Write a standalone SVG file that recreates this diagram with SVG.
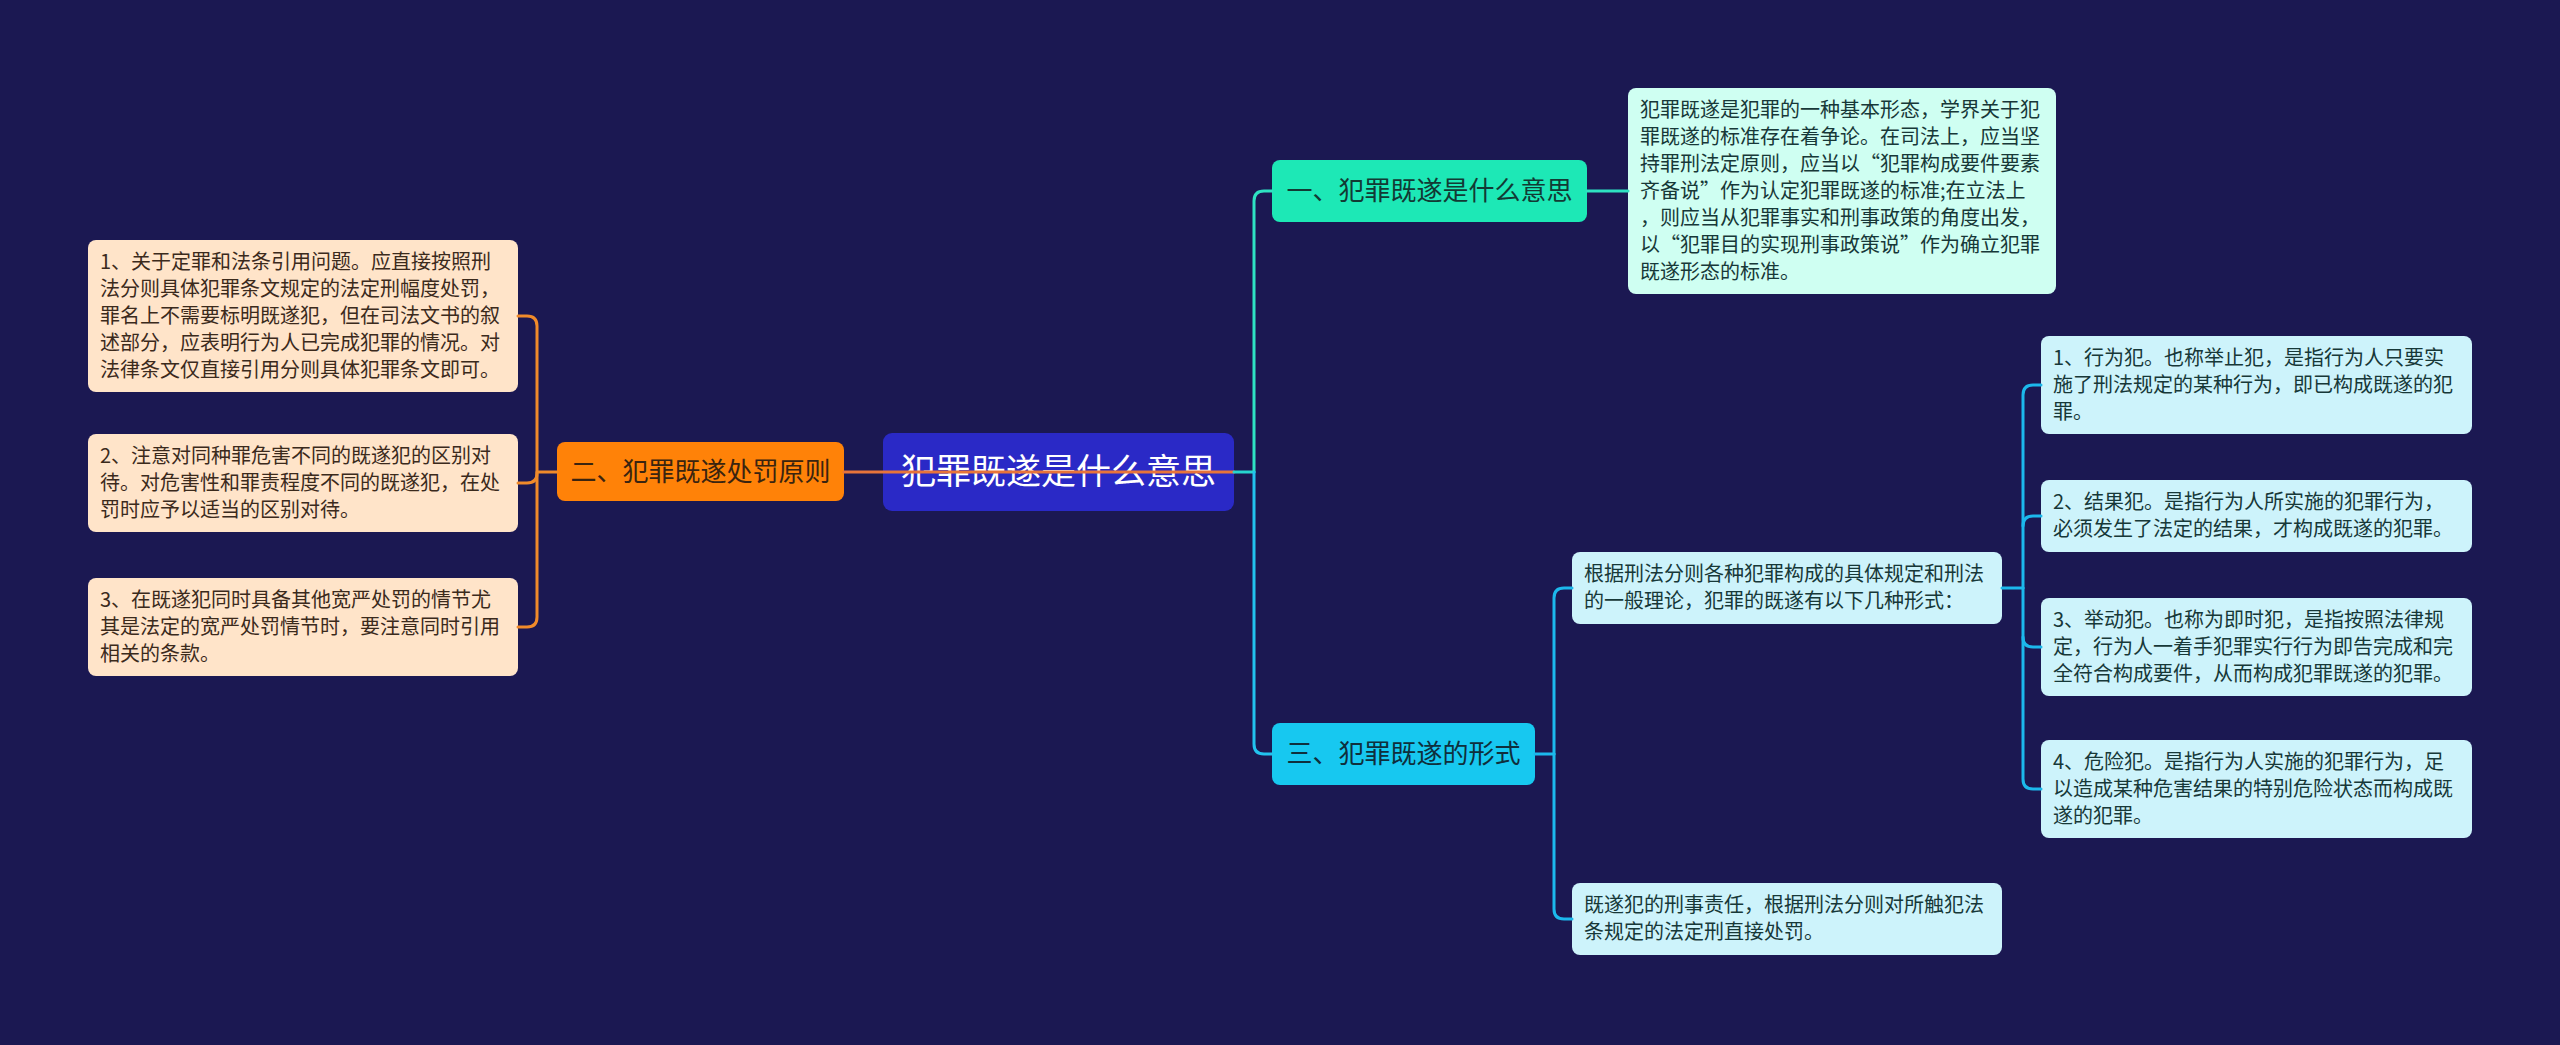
<svg xmlns="http://www.w3.org/2000/svg" width="2560" height="1045" viewBox="0 0 2560 1045">
<style>
text{font-family:"Noto Sans CJK SC","Noto Sans",sans-serif;}
.leaf{font-size:20px;}
.lo{fill:#ffe4c9;}
.lt{fill:#3b2a1c;}
.rl{fill:#cdf3fb;}
.rt{fill:#173838;}
.br{font-size:26px;}
.c{fill:none;stroke-width:3;stroke-linecap:round;}
</style>
<rect width="2560" height="1045" fill="#1b1852"/>

<g id="root">
<rect x="883" y="433" width="351" height="78" rx="9" fill="#2a29c6"/>
<text x="1058.5" y="484" font-size="35" fill="#ffffff" text-anchor="middle">犯罪既遂是什么意思</text>
</g>

<g id="b2">
<rect x="557" y="442" width="287" height="59" rx="8" fill="#ff8208"/>
<text class="br" x="700.5" y="481" fill="#3a2410" text-anchor="middle">二、犯罪既遂处罚原则</text>
</g>

<g id="l1">
<rect class="lo" x="88" y="240" width="430" height="152" rx="8"/>
<text class="leaf lt" x="100" y="269">
<tspan x="100">1、关于定罪和法条引用问题。应直接按照刑</tspan>
<tspan x="100" dy="27">法分则具体犯罪条文规定的法定刑幅度处罚，</tspan>
<tspan x="100" dy="27">罪名上不需要标明既遂犯，但在司法文书的叙</tspan>
<tspan x="100" dy="27">述部分，应表明行为人已完成犯罪的情况。对</tspan>
<tspan x="100" dy="27">法律条文仅直接引用分则具体犯罪条文即可。</tspan>
</text>
</g>

<g id="l2">
<rect class="lo" x="88" y="434" width="430" height="98" rx="8"/>
<text class="leaf lt" x="100" y="463">
<tspan x="100">2、注意对同种罪危害不同的既遂犯的区别对</tspan>
<tspan x="100" dy="27">待。对危害性和罪责程度不同的既遂犯，在处</tspan>
<tspan x="100" dy="27">罚时应予以适当的区别对待。</tspan>
</text>
</g>

<g id="l3">
<rect class="lo" x="88" y="578" width="430" height="98" rx="8"/>
<text class="leaf lt" x="100" y="607">
<tspan x="100">3、在既遂犯同时具备其他宽严处罚的情节尤</tspan>
<tspan x="100" dy="27">其是法定的宽严处罚情节时，要注意同时引用</tspan>
<tspan x="100" dy="27">相关的条款。</tspan>
</text>
</g>

<g id="b1">
<rect x="1272" y="160" width="315" height="62" rx="8" fill="#1de8b6"/>
<text class="br" x="1429.5" y="200" fill="#123a34" text-anchor="middle">一、犯罪既遂是什么意思</text>
</g>

<g id="r1">
<rect x="1628" y="88" width="428" height="206" rx="8" fill="#cffff2"/>
<text class="leaf rt" x="1640" y="117">
<tspan x="1640">犯罪既遂是犯罪的一种基本形态，学界关于犯</tspan>
<tspan x="1640" dy="27">罪既遂的标准存在着争论。在司法上，应当坚</tspan>
<tspan x="1640" dy="27">持罪刑法定原则，应当以“犯罪构成要件要素</tspan>
<tspan x="1640" dy="27">齐备说”作为认定犯罪既遂的标准;在立法上</tspan>
<tspan x="1640" dy="27">，则应当从犯罪事实和刑事政策的角度出发，</tspan>
<tspan x="1640" dy="27">以“犯罪目的实现刑事政策说”作为确立犯罪</tspan>
<tspan x="1640" dy="27">既遂形态的标准。</tspan>
</text>
</g>

<g id="b3">
<rect x="1272" y="723" width="263" height="62" rx="8" fill="#17c8f0"/>
<text class="br" x="1403.5" y="763" fill="#0f2f3c" text-anchor="middle">三、犯罪既遂的形式</text>
</g>

<g id="ca">
<rect class="rl" x="1572" y="552" width="430" height="72" rx="8"/>
<text class="leaf rt" x="1584" y="581">
<tspan x="1584">根据刑法分则各种犯罪构成的具体规定和刑法</tspan>
<tspan x="1584" dy="27">的一般理论，犯罪的既遂有以下几种形式：</tspan>
</text>
</g>

<g id="cb">
<rect class="rl" x="1572" y="883" width="430" height="72" rx="8"/>
<text class="leaf rt" x="1584" y="912">
<tspan x="1584">既遂犯的刑事责任，根据刑法分则对所触犯法</tspan>
<tspan x="1584" dy="27">条规定的法定刑直接处罚。</tspan>
</text>
</g>

<g id="c1">
<rect class="rl" x="2041" y="336" width="431" height="98" rx="8"/>
<text class="leaf rt" x="2053" y="365">
<tspan x="2053">1、行为犯。也称举止犯，是指行为人只要实</tspan>
<tspan x="2053" dy="27">施了刑法规定的某种行为，即已构成既遂的犯</tspan>
<tspan x="2053" dy="27">罪。</tspan>
</text>
</g>

<g id="c2">
<rect class="rl" x="2041" y="480" width="431" height="72" rx="8"/>
<text class="leaf rt" x="2053" y="509">
<tspan x="2053">2、结果犯。是指行为人所实施的犯罪行为，</tspan>
<tspan x="2053" dy="27">必须发生了法定的结果，才构成既遂的犯罪。</tspan>
</text>
</g>

<g id="c3">
<rect class="rl" x="2041" y="598" width="431" height="98" rx="8"/>
<text class="leaf rt" x="2053" y="627">
<tspan x="2053">3、举动犯。也称为即时犯，是指按照法律规</tspan>
<tspan x="2053" dy="27">定，行为人一着手犯罪实行行为即告完成和完</tspan>
<tspan x="2053" dy="27">全符合构成要件，从而构成犯罪既遂的犯罪。</tspan>
</text>
</g>

<g id="c4">
<rect class="rl" x="2041" y="740" width="431" height="98" rx="8"/>
<text class="leaf rt" x="2053" y="769">
<tspan x="2053">4、危险犯。是指行为人实施的犯罪行为，足</tspan>
<tspan x="2053" dy="27">以造成某种危害结果的特别危险状态而构成既</tspan>
<tspan x="2053" dy="27">遂的犯罪。</tspan>
</text>
</g>

<g id="connectors">
<path class="c" stroke="#e8743a" d="M1234,472 H844"/>
<path class="c" stroke="#f08a2a" d="M557,472 H537"/>
<path class="c" stroke="#f08a2a" d="M518,316 H527 Q537,316 537,326 V617 Q537,627 527,627 H518"/>
<path class="c" stroke="#f08a2a" d="M518,483 H527 Q537,483 537,473"/>
<path class="c" stroke="#27d4cf" d="M1234,472 H1254"/>
<path class="c" stroke="#2ee2c2" d="M1254,472 V201 Q1254,191 1264,191 H1272"/>
<path class="c" stroke="#22c2ee" d="M1254,472 V744 Q1254,754 1264,754 H1272"/>
<path class="c" stroke="#2ee2c2" d="M1587,191 H1628"/>
<path class="c" stroke="#1cb8ec" d="M1535,754 H1554"/>
<path class="c" stroke="#1cb8ec" d="M1554,754 V598 Q1554,588 1564,588 H1572"/>
<path class="c" stroke="#1cb8ec" d="M1554,754 V909 Q1554,919 1564,919 H1572"/>
<path class="c" stroke="#1cb8ec" d="M2002,588 H2023"/>
<path class="c" stroke="#1cb8ec" d="M2023,588 V395 Q2023,385 2033,385 H2041"/>
<path class="c" stroke="#1cb8ec" d="M2023,588 V779 Q2023,789 2033,789 H2041"/>
<path class="c" stroke="#1cb8ec" d="M2041,516 H2033 Q2023,516 2023,526"/>
<path class="c" stroke="#1cb8ec" d="M2041,647 H2033 Q2023,647 2023,637"/>
</g>
</svg>
